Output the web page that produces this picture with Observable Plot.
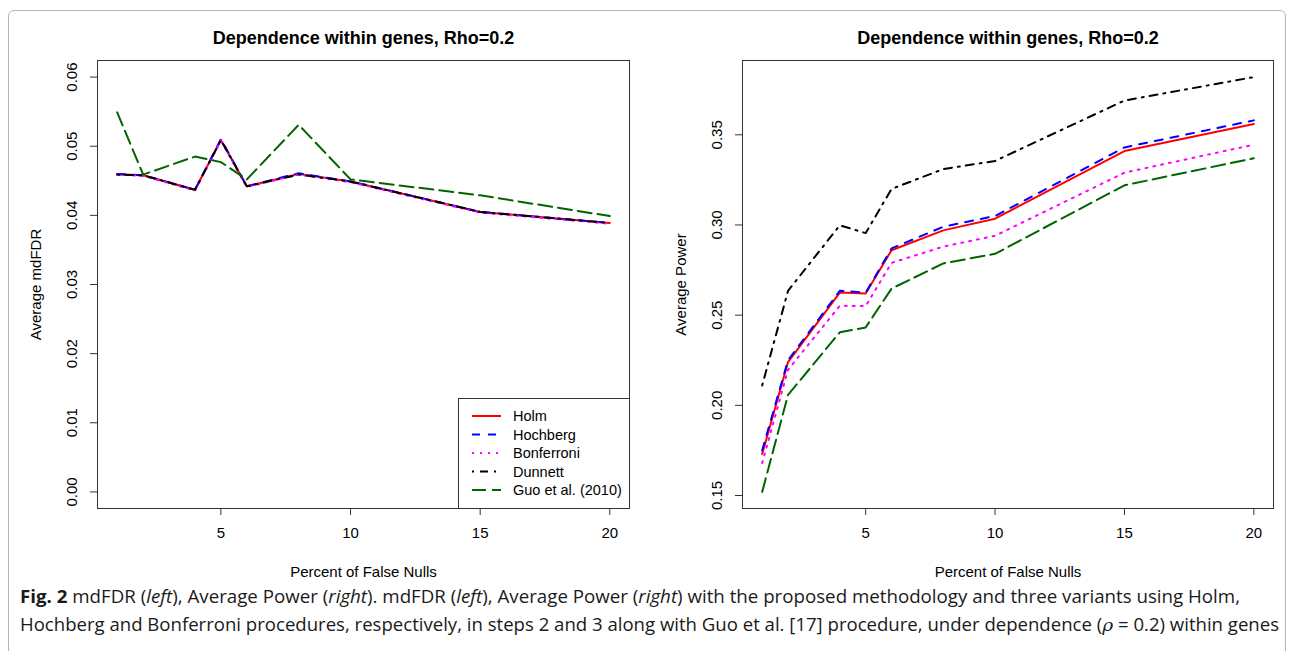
<!DOCTYPE html>
<html><head><meta charset="utf-8">
<script src="https://cdn.jsdelivr.net/npm/d3@7"></script>
<script src="https://cdn.jsdelivr.net/npm/@observablehq/plot@0.6"></script>
<style>
html,body{margin:0;padding:0;background:#fff;}
body{width:1294px;height:651px;position:relative;overflow:hidden;font-family:"Liberation Sans",Arial,sans-serif;}
#border{position:absolute;left:8px;top:10px;width:1278px;height:720px;border:1px solid #b5b5b5;border-radius:6px;box-sizing:border-box;}
.panel{position:absolute;top:0;}
#legend{position:absolute;left:458px;top:398px;}
.cap{position:absolute;left:20px;font-family:"Open Sans","Noto Sans",sans-serif;font-size:17.5px;line-height:22px;white-space:nowrap;transform-origin:0 50%;color:#1a1a1a;}
.cap i.rho{font-family:"DejaVu Serif",serif;}
</style></head><body>
<div id="border"></div>
<div id="left" class="panel" style="left:0px"></div>
<div id="right" class="panel" style="left:647px"></div>
<div id="legend"></div>
<div class="cap" id="cap1" style="top:585px"><b>Fig. 2</b> mdFDR (<i>left</i>), Average Power (<i>right</i>). mdFDR (<i>left</i>), Average Power (<i>right</i>) with the proposed methodology and three variants using Holm,</div>
<div class="cap" id="cap2" style="top:613px">Hochberg and Bonferroni procedures, respectively, in steps 2 and 3 along with Guo et al. [17] procedure, under dependence (<i class="rho">ρ</i> = 0.2) within genes</div>
<script>
// ---------- data ----------
const xPct = [1, 2, 4, 5, 6, 8, 10, 15, 20];
const seriesNames = ["Holm", "Hochberg", "Bonferroni", "Dunnett", "Guo et al. (2010)"];

// Left panel: Average mdFDR
const fdrHolm       = [0.0459, 0.0458, 0.0437, 0.0509, 0.0442, 0.0460, 0.0449, 0.0405, 0.0389];
const fdrHochberg   = [0.0460, 0.0458, 0.0437, 0.0510, 0.0442, 0.0461, 0.0449, 0.0405, 0.0389];
const fdrBonferroni = [0.0459, 0.0457, 0.0436, 0.0508, 0.0441, 0.0459, 0.0448, 0.0404, 0.0388];
const fdrDunnett    = [0.0459, 0.0458, 0.0437, 0.0509, 0.0442, 0.0459, 0.0449, 0.0405, 0.0389];
const fdrGuo        = [0.0549, 0.0459, 0.0485, 0.0477, 0.0452, 0.0531, 0.0452, 0.0429, 0.0399];

// Right panel: Average Power
const powHolm       = [0.173, 0.224, 0.2625, 0.262, 0.286, 0.297, 0.3035, 0.341, 0.356];
const powHochberg   = [0.175, 0.225, 0.2635, 0.2625, 0.287, 0.299, 0.305, 0.343, 0.358];
const powBonferroni = [0.168, 0.2197, 0.2552, 0.2550, 0.279, 0.288, 0.294, 0.329, 0.3445];
const powDunnett    = [0.211, 0.2635, 0.2998, 0.2955, 0.320, 0.331, 0.3355, 0.369, 0.382];
const powGuo        = [0.152, 0.2058, 0.2405, 0.2432, 0.2647, 0.2787, 0.284, 0.322, 0.337];

const xTickValues = [5, 10, 15, 20];
const fdrTickValues = [0, 0.01, 0.02, 0.03, 0.04, 0.05, 0.06];
const powTickValues = [0.15, 0.20, 0.25, 0.30, 0.35];

const titleText = "Dependence within genes, Rho=0.2";
const xLabelText = "Percent of False Nulls";

// ---------- styles ----------
const lineStyles = [
  {color: "#FF0000", dash: null},
  {color: "#0000FF", dash: "8,8"},
  {color: "#FF00FF", dash: "2,6"},
  {color: "#000000", dash: "2,6,8,6"},
  {color: "#006400", dash: "14,6"}
];

function pad(ext) { const d = (ext[1] - ext[0]) * 0.04; return [ext[0] - d, ext[1] + d]; }
const xDomain = pad(d3.extent(xPct));

function panel(opts) {
  const marks = [];
  opts.values.forEach((vals, i) => {
    const st = lineStyles[i];
    const rows = xPct.map((x, j) => ({x, y: vals[j], s: seriesNames[i]}));
    marks.push(Plot.line(rows, {x: "x", y: "y", stroke: st.color, strokeWidth: 2,
      strokeDasharray: st.dash || undefined, strokeLinejoin: "round"}));
  });
  marks.push(Plot.frame({stroke: "#333", strokeWidth: 1}));
  marks.push(Plot.axisX({ticks: xTickValues, tickSize: 7, tickPadding: 12, label: null, stroke: "#333", fontSize: 15}));
  marks.push(Plot.axisY({ticks: opts.yTicks, tickFormat: d3.format(".2f"), tickSize: 7, tickPadding: 14,
    tickRotate: -90, label: null, stroke: "#333", fontSize: 15}));
  marks.push(Plot.text([titleText], {frameAnchor: "top", dy: -22, lineAnchor: "middle",
    fontWeight: "bold", fontSize: 18, fill: "black"}));
  marks.push(Plot.text([xLabelText], {frameAnchor: "bottom", dy: 64, lineAnchor: "middle",
    fontSize: 15, fill: "black"}));
  marks.push(Plot.text([opts.yLabel], {frameAnchor: "left", dx: -61, rotate: -90,
    textAnchor: "middle", lineAnchor: "middle", fontSize: 15, fill: "black"}));
  return Plot.plot({
    width: 647, height: 580,
    marginTop: 60, marginBottom: 72, marginLeft: opts.marginLeft, marginRight: opts.marginRight,
    x: {domain: xDomain},
    y: {domain: opts.yDomain},
    style: {fontFamily: "'Liberation Sans', Arial, sans-serif", fontSize: "15px", color: "black", background: "transparent", overflow: "visible"},
    marks
  });
}

const fdrAll = [fdrHolm, fdrHochberg, fdrBonferroni, fdrDunnett, fdrGuo];
const powAll = [powHolm, powHochberg, powBonferroni, powDunnett, powGuo];

document.getElementById("left").appendChild(panel({
  values: fdrAll, yDomain: pad([0, 0.06]), yTicks: fdrTickValues,
  yLabel: "Average mdFDR", marginLeft: 97, marginRight: 18
}));
document.getElementById("right").appendChild(panel({
  values: powAll, yDomain: pad(d3.extent(powAll.flat())), yTicks: powTickValues,
  yLabel: "Average Power", marginLeft: 95, marginRight: 21
}));

// ---------- legend (R-style bottomright box) ----------
const lg = d3.select("#legend").append("svg").attr("width", 172).attr("height", 111)
  .style("font-family", "'Liberation Sans', Arial, sans-serif").style("font-size", "14.5px");
lg.append("rect").attr("x", 0.5).attr("y", 0.5).attr("width", 171).attr("height", 110)
  .attr("fill", "white").attr("stroke", "#333");
seriesNames.forEach((name, i) => {
  const cy = 18 + i * 18.5;
  const st = lineStyles[i];
  lg.append("line").attr("x1", 14).attr("x2", 43).attr("y1", cy).attr("y2", cy)
    .attr("stroke", st.color).attr("stroke-width", 2).attr("stroke-dasharray", st.dash);
  lg.append("text").attr("x", 55).attr("y", cy).attr("dy", "0.35em").text(name);
});

// ---------- fit caption lines ----------
function fit(id, target) {
  const el = document.getElementById(id);
  const w = el.getBoundingClientRect().width;
  el.style.transform = `scaleX(${target / w})`;
}
fit("cap1", 1220);
fit("cap2", 1259);
</script>
</body></html>
